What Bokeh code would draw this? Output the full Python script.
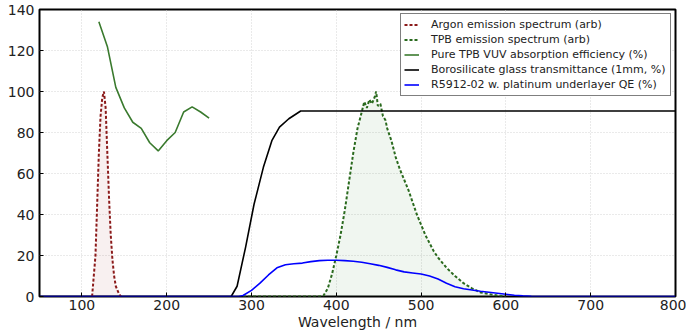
from bokeh.plotting import figure
from bokeh.models import Range1d, Legend, LegendItem, FixedTicker
from bokeh.embed import file_html
from bokeh.resources import INLINE

# Argon emission spectrum (arb)
argon_x = [112, 114, 116, 118, 120, 122, 124, 126, 128, 130, 132, 134, 136, 138, 140, 142, 144, 146]
argon_y = [0, 10, 20, 45, 70, 88, 97, 100, 92, 70, 48, 30, 18, 10, 5, 3, 1, 0]

# TPB emission spectrum (arb)
tpbem_x = [290, 380, 385, 390, 395, 400, 405, 410, 415, 420, 425, 430, 433, 436, 439, 442, 445, 447,
           449, 452, 455, 458, 460, 465, 470, 475, 480, 485, 490, 495, 500, 505, 510, 515, 520, 530,
           540, 550, 560, 570, 580, 590, 600]
tpbem_y = [0, 0, 0.5, 4, 11, 20, 30, 42, 56, 70, 82, 90, 95, 92, 96, 94, 97, 100,
           93, 94, 88, 86, 82, 76, 68, 62, 57, 52, 46, 40, 35, 30, 26, 22, 19, 14,
           10, 6.5, 4, 2, 1.2, 0.5, 0]

# Pure TPB VUV absorption efficiency (%)
tpbabs_x = [120, 130, 140, 150, 160, 170, 180, 190, 200, 210, 220, 230, 240, 250]
tpbabs_y = [134, 122, 102, 92, 85, 82, 75, 71, 76, 80, 90, 92.5, 90, 87]

# Borosilicate glass transmittance (1mm, %)
glass_x = [50, 276, 283, 293, 303, 314, 324, 333, 344, 358, 800]
glass_y = [0, 0, 5, 24, 45, 63, 76, 82.6, 86.7, 90.5, 90.5]

# R5912-02 w. platinum underlayer QE (%)
qe_x = [50, 285, 290, 300, 310, 320, 330, 340, 350, 360, 370, 380, 390, 400, 410, 420, 430, 440,
        450, 460, 470, 480, 490, 500, 510, 520, 530, 540, 550, 560, 570, 580, 590, 600, 610, 620,
        630, 650, 800]
qe_y = [0, 0, 0.5, 3, 6.5, 10.5, 14, 15.5, 16, 16.3, 17, 17.5, 17.7, 17.7, 17.5, 17.2, 16.7, 16.0,
        15.2, 14.2, 13, 12, 11.5, 11, 10, 8.5, 6.5, 4.8, 3.8, 3.2, 2.6, 2.1, 1.6, 1.1, 0.6, 0.3,
        0.1, 0, 0]

x_ticks = [100, 200, 300, 400, 500, 600, 700, 800]
y_ticks = [0, 20, 40, 60, 80, 100, 120, 140]

labels = ["Argon emission spectrum (arb)",
          "TPB emission spectrum (arb)",
          "Pure TPB VUV absorption efficiency (%)",
          "Borosilicate glass transmittance (1mm, %)",
          "R5912-02 w. platinum underlayer QE (%)"]

FONT = "DejaVu Sans"

p = figure(width=686, height=335, output_backend="svg", toolbar_location=None,
           x_range=Range1d(50, 800), y_range=Range1d(0, 140),
           min_border_left=39, min_border_right=11, min_border_top=9, min_border_bottom=39)

p.outline_line_color = "black"
p.outline_line_width = 2
p.background_fill_color = "white"
p.border_fill_color = "white"

for ax in (p.xaxis[0], p.yaxis[0]):
    ax.axis_line_color = None
    ax.major_tick_in = 4
    ax.major_tick_out = 0
    ax.minor_tick_line_color = None
    ax.major_tick_line_color = "black"
    ax.major_label_text_font = FONT
    ax.major_label_text_font_size = "14px"
    ax.major_label_text_color = "#222222"

p.xaxis.ticker = FixedTicker(ticks=x_ticks)
p.yaxis.ticker = FixedTicker(ticks=y_ticks)
p.xaxis.axis_label = "Wavelength / nm"
p.xaxis.axis_label_text_font = FONT
p.xaxis.axis_label_text_font_size = "14px"
p.xaxis.axis_label_text_font_style = "normal"
p.xaxis.axis_label_text_color = "#222222"
p.xaxis.major_label_standoff = 3
p.xaxis.axis_label_standoff = 1
p.yaxis.major_label_standoff = 5

p.grid.grid_line_color = "#d4d4d4"
p.grid.grid_line_dash = "1 2"
p.grid.grid_line_width = 1

# fills
p.varea(x=argon_x, y1=0, y2=argon_y, fill_color="#8b0000", fill_alpha=0.06)
p.varea(x=tpbem_x, y1=0, y2=tpbem_y, fill_color="#006400", fill_alpha=0.06)

r_ar = p.line(argon_x, argon_y, line_color="#8b1a1a", line_width=2, line_dash="3 2")
r_em = p.line(tpbem_x, tpbem_y, line_color="#2a6a1e", line_width=2, line_dash="3 2")
r_abs = p.line(tpbabs_x, tpbabs_y, line_color="#3a7a2e", line_width=1.6)
r_gl = p.line(glass_x, glass_y, line_color="black", line_width=1.6)
r_qe = p.line(qe_x, qe_y, line_color="#0000ff", line_width=1.6)

legend = Legend(items=[LegendItem(label=l, renderers=[r]) for l, r in
                       zip(labels, [r_ar, r_em, r_abs, r_gl, r_qe])],
                location="top_right")
legend.label_text_font = FONT
legend.label_text_font_size = "11px"
legend.label_text_color = "#222222"
legend.label_height = 15
legend.glyph_height = 15
legend.glyph_width = 15
legend.label_width = 236
legend.spacing = 0
legend.padding = 3
legend.margin = 4
legend.label_standoff = 12
legend.border_line_color = "black"
legend.border_line_width = 1.5
legend.background_fill_alpha = 1
p.add_layout(legend)

open("out.html", "w").write(file_html(p, INLINE))
